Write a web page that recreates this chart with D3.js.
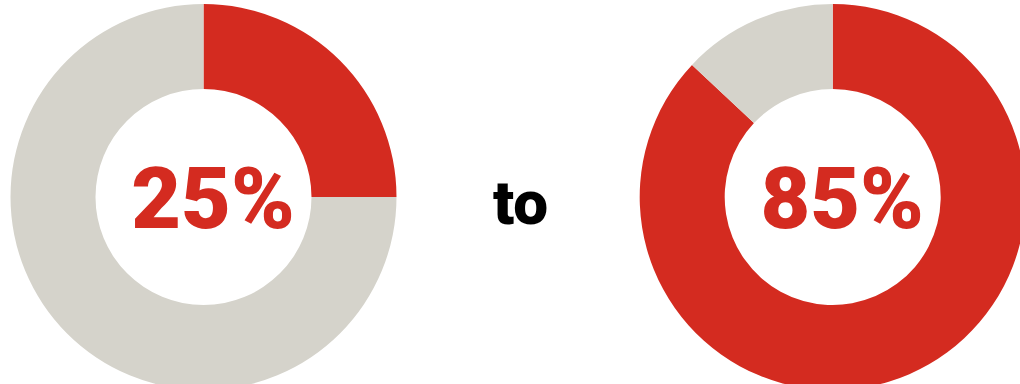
<!DOCTYPE html>
<html>
<head>
<meta charset="utf-8">
<script src="https://cdn.jsdelivr.net/npm/d3@7"></script>
<style>
  html, body { margin: 0; padding: 0; background: #fff; }
  svg { display: block; }
</style>
</head>
<body>
<div id="chart"></div>
<script>
// share shown by each ring (filled part), as drawn
const ringNames = ["before", "after"];
const ringShares = [25, 87];
const ringLabels = ["25%", "85%"];
const middleWord = "to";

const width = 1020;
const height = 384;
const outerR = 193;
const innerR = 108;
const centers = [[203.5, 197], [832.7, 197]];

const red = "#d42b20";
const grey = "#d5d3cb";

const svg = d3.select("#chart")
  .append("svg")
  .attr("width", width)
  .attr("height", height);

const pie = d3.pie()
  .sort(null)
  .value(d => d.v);

const arc = d3.arc()
  .innerRadius(innerR)
  .outerRadius(outerR);

ringNames.forEach((name, i) => {
  const g = svg.append("g")
    .attr("class", "ring " + name)
    .attr("transform", `translate(${centers[i][0]},${centers[i][1]})`);

  const parts = [
    { k: "on", v: ringShares[i] },
    { k: "off", v: 100 - ringShares[i] }
  ];

  g.selectAll("path")
    .data(pie(parts))
    .join("path")
    .attr("d", arc)
    .attr("fill", d => d.data.k === "on" ? red : grey);

  // label sits a little right of the ring centre in the original
  g.append("text")
    .attr("x", 9.5)
    .attr("y", 31)
    .attr("text-anchor", "middle")
    .style("font-family", "Roboto, 'Liberation Sans', sans-serif")
    .style("font-weight", "900")
    .style("font-size", "86px")
    .attr("fill", red)
    .text(ringLabels[i]);
});

svg.append("text")
  .attr("x", 520.5)
  .attr("y", 223.5)
  .attr("text-anchor", "middle")
  .style("font-family", "Roboto, 'Liberation Sans', sans-serif")
  .style("font-weight", "900")
  .style("font-size", "62px")
  .attr("fill", "#000")
  .text(middleWord);
</script>
</body>
</html>
